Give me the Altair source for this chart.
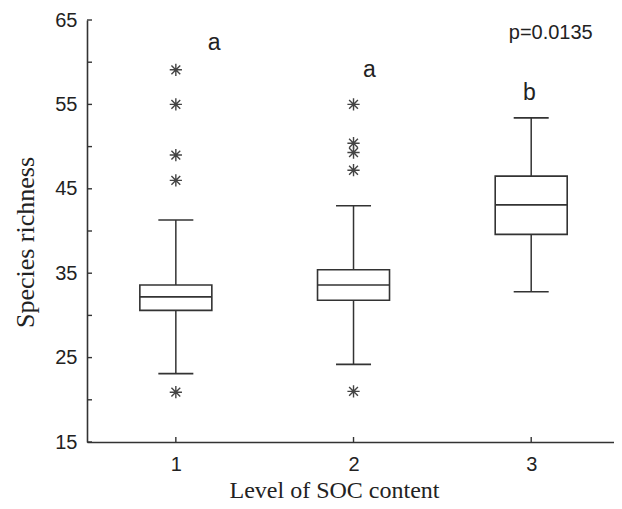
import altair as alt
import pandas as pd

# Box statistics
levels = [1, 2, 3]
lower_whisker = [23.1, 24.2, 32.8]
q1 = [30.6, 31.8, 39.6]
median = [32.2, 33.6, 43.1]
q3 = [33.6, 35.4, 46.5]
upper_whisker = [41.3, 43.0, 53.4]

outlier_level = [1, 1, 1, 1, 1, 2, 2, 2, 2, 2]
outlier_value = [59.1, 55.0, 49.0, 46.0, 20.9, 55.0, 50.4, 49.3, 47.2, 21.0]

# Group letters and p-value annotation (data coordinates)
letter_text = ["a", "a", "b"]
letter_x = [1.215, 2.09, 2.99]
letter_y = [62.3, 59.1, 56.3]
p_text = ["p=0.0135"]
p_x = [3.11]
p_y = [63.5]

y_ticks = [15, 20, 25, 30, 35, 40, 45, 50, 55, 60, 65]
x_ticks = [1, 2, 3]

W, H = 527, 422
LINE = "#333333"
BOXHALF = 0.2026
CAPHALF = 0.0985

xscale = alt.Scale(domain=[0.5, 3.466], nice=False, zero=False)
yscale = alt.Scale(domain=[15, 65], nice=False, zero=False)

box_df = pd.DataFrame({"level": levels, "lo": lower_whisker, "q1": q1,
                       "med": median, "q3": q3, "hi": upper_whisker})
out_df = pd.DataFrame({"level": outlier_level, "value": outlier_value})
let_df = pd.DataFrame({"t": letter_text, "x": letter_x, "y": letter_y})
p_df = pd.DataFrame({"t": p_text, "x": p_x, "y": p_y})
yt_df = pd.DataFrame({"v": y_ticks})
xt_df = pd.DataFrame({"v": x_ticks})

xaxis = alt.Axis(values=x_ticks, format="d", ticks=False, grid=False,
                 domainColor=LINE, domainWidth=1.6,
                 labelFont="Liberation Sans", labelFontSize=20, labelColor="#222",
                 labelPadding=12, labelAngle=0,
                 title="Level of SOC content", titleFont="Liberation Serif",
                 titleFontSize=24, titleFontWeight="normal", titleColor="#222",
                 titleX=247, titleY=55, titleBaseline="alphabetic")
yaxis = alt.Axis(values=y_ticks, labelExpr="(datum.value - 15) % 10 == 0 ? datum.label : ''",
                 ticks=False, grid=False, domainColor=LINE, domainWidth=1.6,
                 labelFont="Liberation Sans", labelFontSize=20, labelColor="#222",
                 labelPadding=10,
                 title="Species richness", titleFont="Liberation Serif",
                 titleFontSize=26, titleFontWeight="normal", titleColor="#222",
                 titleX=-62, titleY=222, titleBaseline="middle", titleAngle=-90)

base = alt.Chart(box_df).transform_calculate(
    bx1=f"datum.level - {BOXHALF}", bx2=f"datum.level + {BOXHALF}",
    cx1=f"datum.level - {CAPHALF}", cx2=f"datum.level + {CAPHALF}")

axes_holder = alt.Chart(box_df).mark_point(opacity=0).encode(
    x=alt.X("level:Q", scale=xscale, axis=xaxis),
    y=alt.Y("med:Q", scale=yscale, axis=yaxis))

whisk_up = base.mark_rule(color=LINE, strokeWidth=1.5).encode(
    x=alt.X("level:Q", scale=xscale), y=alt.Y("q3:Q", scale=yscale), y2="hi:Q")
whisk_lo = base.mark_rule(color=LINE, strokeWidth=1.5).encode(
    x=alt.X("level:Q", scale=xscale), y=alt.Y("lo:Q", scale=yscale), y2="q1:Q")
cap_hi = base.mark_rule(color=LINE, strokeWidth=1.6).encode(
    x=alt.X("cx1:Q", scale=xscale), x2="cx2:Q", y=alt.Y("hi:Q", scale=yscale))
cap_lo = base.mark_rule(color=LINE, strokeWidth=1.6).encode(
    x=alt.X("cx1:Q", scale=xscale), x2="cx2:Q", y=alt.Y("lo:Q", scale=yscale))
box = base.mark_rect(fill="white", stroke=LINE, strokeWidth=1.6).encode(
    x=alt.X("bx1:Q", scale=xscale), x2="bx2:Q",
    y=alt.Y("q1:Q", scale=yscale), y2="q3:Q")
med = base.mark_rule(color=LINE, strokeWidth=1.6).encode(
    x=alt.X("bx1:Q", scale=xscale), x2="bx2:Q", y=alt.Y("med:Q", scale=yscale))

asterisk = "M0,-1L0,1M-1,0L1,0M-0.72,-0.72L0.72,0.72M-0.72,0.72L0.72,-0.72"
outliers = alt.Chart(out_df).mark_point(shape=asterisk, filled=False, size=150,
                                        stroke="#444", strokeWidth=1.4, opacity=1).encode(
    x=alt.X("level:Q", scale=xscale), y=alt.Y("value:Q", scale=yscale))

letters = alt.Chart(let_df).mark_text(font="Liberation Sans", fontSize=23, color="#222",
                                      baseline="middle", align="center").encode(
    x=alt.X("x:Q", scale=xscale), y=alt.Y("y:Q", scale=yscale), text="t:N")
ptext = alt.Chart(p_df).mark_text(font="Liberation Sans", fontSize=20, color="#222",
                                  baseline="middle", align="center").encode(
    x=alt.X("x:Q", scale=xscale), y=alt.Y("y:Q", scale=yscale), text="t:N")

yticks = alt.Chart(yt_df).mark_rule(color=LINE, strokeWidth=1.4).encode(
    x=alt.value(0), x2=alt.value(5), y=alt.Y("v:Q", scale=yscale))
xticks = alt.Chart(xt_df).mark_rule(color=LINE, strokeWidth=1.4).encode(
    x=alt.X("v:Q", scale=xscale), y=alt.value(H), y2=alt.value(H - 5))

chart = alt.layer(axes_holder, whisk_up, whisk_lo, cap_hi, cap_lo, box, med,
                  outliers, letters, ptext, yticks, xticks).properties(
    width=W, height=H,
    autosize=alt.AutoSizeParams(type="none"),
    padding={"left": 79, "top": 12, "right": 0, "bottom": 62},
    background="white",
).configure_view(stroke=None)

chart.save("out.html", embed_options={"renderer": "svg", "actions": False})
